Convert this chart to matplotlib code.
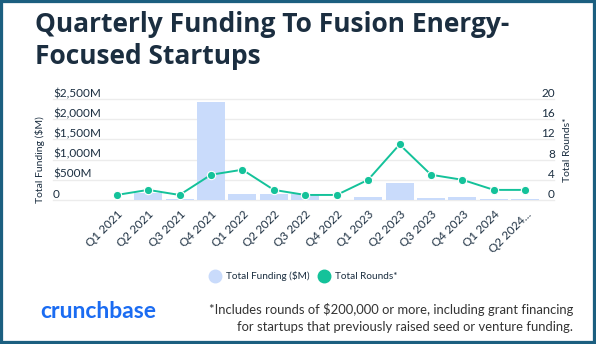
import matplotlib.pyplot as plt
from matplotlib.lines import Line2D
from matplotlib.patches import Rectangle

quarters = ["Q1 2021", "Q2 2021", "Q3 2021", "Q4 2021", "Q1 2022", "Q2 2022",
            "Q3 2022", "Q4 2022", "Q1 2023", "Q2 2023", "Q3 2023", "Q4 2023",
            "Q1 2024", "Q2 2024..."]
funding = [0, 165, 17, 2420, 150, 150, 150, 0, 80, 410, 50, 80, 15, 35]
rounds = [1, 2, 1, 5, 6, 2, 1, 1, 4, 11, 5, 4, 2, 2]
funding_ticks = [0, 500, 1000, 1500, 2000, 2500]
funding_labels = ["0", "$500M", "$1,000M", "$1,500M", "$2,000M", "$2,500M"]
rounds_ticks = [0, 4, 8, 12, 16, 20]

NAVY = "#1b2e40"
BAR = "#c9dbfb"
TEAL = "#14c29a"

plt.rcParams['font.family'] = ['Lato', 'DejaVu Sans']

W, H = 596, 344
fig = plt.figure(figsize=(W / 100, H / 100), dpi=100)

# frame around the card
fig.patches.append(Rectangle((0, 0), 1, 1, transform=fig.transFigure,
                             fill=False, edgecolor="#1b5f80", linewidth=4.5))

# title
fig.text(35 / W, 1 - 11 / H, "Quarterly Funding To Fusion Energy-\nFocused Startups",
         ha="left", va="top", fontsize=19, fontweight="bold", color=NAVY,
         linespacing=1.22, family=["Open Sans", "DejaVu Sans"])

# plot area in pixels
x0, x1, y_top, y_bot = 101, 541, 99, 200
ax = fig.add_axes([x0 / W, 1 - y_bot / H, (x1 - x0) / W, (y_bot - y_top) / H])
ax2 = ax.twinx()

pos = list(range(len(quarters)))
ax.bar(pos, funding, width=0.89, color=BAR, zorder=2)
ax.set_ylim(0, 2500)
ax.set_xlim(-0.5, len(quarters) - 0.5)

ax2.plot(pos, rounds, color=TEAL, linewidth=1.4, marker="o", markersize=6,
         markeredgecolor="white", markeredgewidth=0.8, zorder=3)
ax2.set_ylim(0, 20)

# gridlines run under the tick labels on both sides
for v in funding_ticks:
    ax.axhline(v, xmin=-0.11, xmax=1.03, color="#ececec", linewidth=1,
               clip_on=False, zorder=0)

for a in (ax, ax2):
    for s in a.spines.values():
        s.set_visible(False)
    a.tick_params(length=0)

ax.set_yticks(funding_ticks)
ax.set_yticklabels(funding_labels, fontsize=8.5, color=NAVY, ha="left")
ax.tick_params(axis="y", pad=34.5)
for t in ax.get_yticklabels():
    t.set_va("bottom")

ax2.set_yticks(rounds_ticks)
ax2.set_yticklabels([str(v) for v in rounds_ticks], fontsize=8.5, color=NAVY, ha="right")
ax2.tick_params(axis="y", pad=10)
for t in ax2.get_yticklabels():
    t.set_va("bottom")

ax.set_xticks(pos)
ax.set_xticklabels(quarters, rotation=45, ha="right", rotation_mode="anchor",
                   fontsize=8.5, color=NAVY)
ax.tick_params(axis="x", pad=6)

fig.text(40 / W, 1 - 160 / H, "Total Funding ($M)", rotation=90, ha="center",
         va="center", fontsize=7.5, color=NAVY)
fig.text(567 / W, 1 - 150 / H, "Total Rounds*", rotation=90, ha="center",
         va="center", fontsize=7.5, color=NAVY)

# legend
handles = [Line2D([], [], linestyle="none", marker="o", markersize=9, color=BAR),
           Line2D([], [], linestyle="none", marker="o", markersize=9, color=TEAL)]
fig.legend(handles, ["Total Funding ($M)", "Total Rounds*"], loc="center",
           bbox_to_anchor=(303 / W, 1 - 276 / H), ncol=2, frameon=False,
           fontsize=7.2, handletextpad=0.5, columnspacing=0.8, handlelength=1.2,
           labelcolor=NAVY)

# brand and footnote
fig.text(40 / W, 1 - 311 / H, "crunchbase", ha="left", va="center",
         fontsize=16.5, fontweight="bold", color="#1b6cf2")
fig.text(573 / W, 1 - 318 / H,
         "*Includes rounds of $200,000 or more, including grant financing\n"
         "for startups that previously raised seed or venture funding.",
         ha="right", va="center", fontsize=9.4, color="#333333", linespacing=1.45,
         multialignment="right")

fig.savefig("out.png", dpi=100)
